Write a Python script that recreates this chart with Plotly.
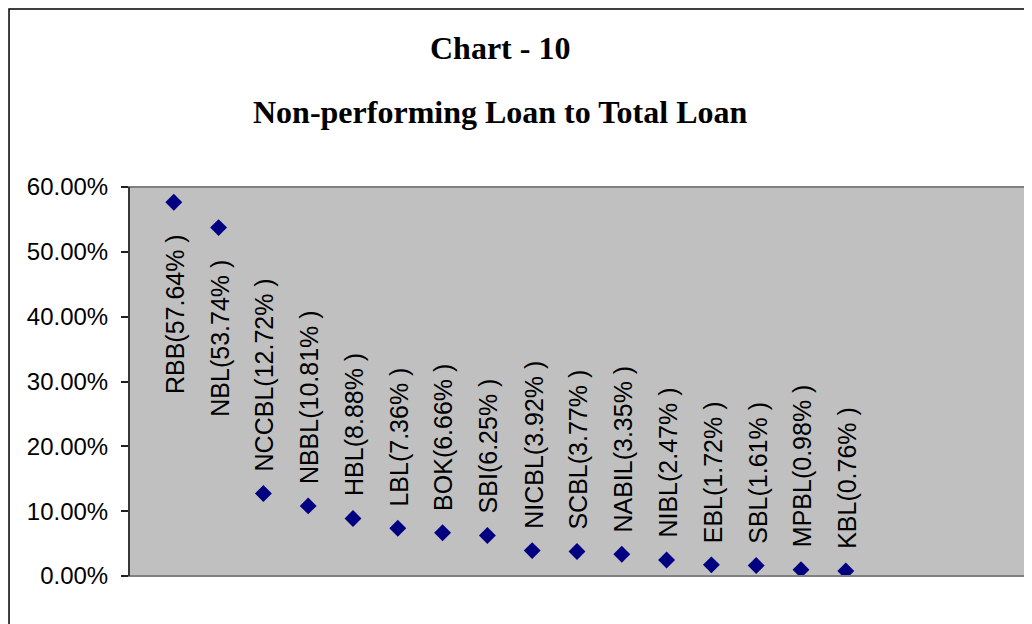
import plotly.graph_objects as go

banks = ["RBB", "NBL", "NCCBL", "NBBL", "HBL", "LBL", "BOK", "SBI",
         "NICBL", "SCBL", "NABIL", "NIBL", "EBL", "SBL", "MPBL", "KBL"]
npl_ratio = [57.64, 53.74, 12.72, 10.81, 8.88, 7.36, 6.66, 6.25,
             3.92, 3.77, 3.35, 2.47, 1.72, 1.61, 0.98, 0.76]
y_ticks = [0, 10, 20, 30, 40, 50, 60]
title_line1 = "Chart - 10"
title_line2 = "Non-performing Loan to Total Loan"

positions = list(range(1, len(banks) + 1))

fig = go.Figure()
fig.add_trace(go.Scatter(
    x=positions, y=npl_ratio, mode="markers",
    marker=dict(symbol="diamond", size=13, color="#000080", line=dict(width=0)),
    hoverinfo="skip", showlegend=False,
))

annotations = []
for xp, name, v in zip(positions, banks, npl_ratio):
    below = v > 40
    annotations.append(dict(
        x=xp, y=v, xref="x", yref="y",
        text=f"{name}({v:.2f}% )", showarrow=False, textangle=-90,
        font=dict(family="Liberation Sans, Arial", size=25, color="black"),
        xanchor="center", yanchor="top" if below else "bottom",
        yshift=-30 if below else 20, xshift=1,
    ))

title_font = dict(family="Liberation Serif, Times New Roman", size=32, color="black")
annotations.append(dict(x=0.414, y=1.357, xref="paper", yref="paper",
                        text=f"<b>{title_line1}</b>", showarrow=False,
                        xanchor="center", yanchor="middle", font=title_font))
annotations.append(dict(x=0.414, y=1.193, xref="paper", yref="paper",
                        text=f"<b>{title_line2}</b>", showarrow=False,
                        xanchor="center", yanchor="middle", font=title_font))

fig.update_layout(
    width=1032, height=624,
    margin=dict(l=121, r=15, t=179, b=56),
    paper_bgcolor="white", plot_bgcolor="#C0C0C0",
    annotations=annotations,
    xaxis=dict(range=[0, 20], showgrid=False, zeroline=False,
               showticklabels=False, ticks="", showline=False, fixedrange=True),
    yaxis=dict(range=[0, 60], tickvals=y_ticks,
               ticktext=[f"{t:.2f}%" for t in y_ticks],
               showgrid=False, zeroline=False, ticks="outside", ticklen=7,
               tickwidth=1.5, tickcolor="#202020", ticklabelstandoff=8,
               tickfont=dict(family="Liberation Sans, Arial", size=24, color="black"),
               showline=False),
    shapes=[
        dict(type="rect", xref="paper", yref="paper", x0=0, x1=1, y0=0, y1=1,
             line=dict(color="#808080", width=2), layer="above"),
        dict(type="line", xref="paper", yref="paper", x0=0, x1=0, y0=0, y1=1,
             line=dict(color="#202020", width=1.5), layer="above"),
        dict(type="rect", xref="paper", yref="paper", x0=-0.1339, x1=1.05,
             y0=-0.3, y1=1.4576, line=dict(color="black", width=1.5)),
    ],
)

fig.write_html("out.html")
